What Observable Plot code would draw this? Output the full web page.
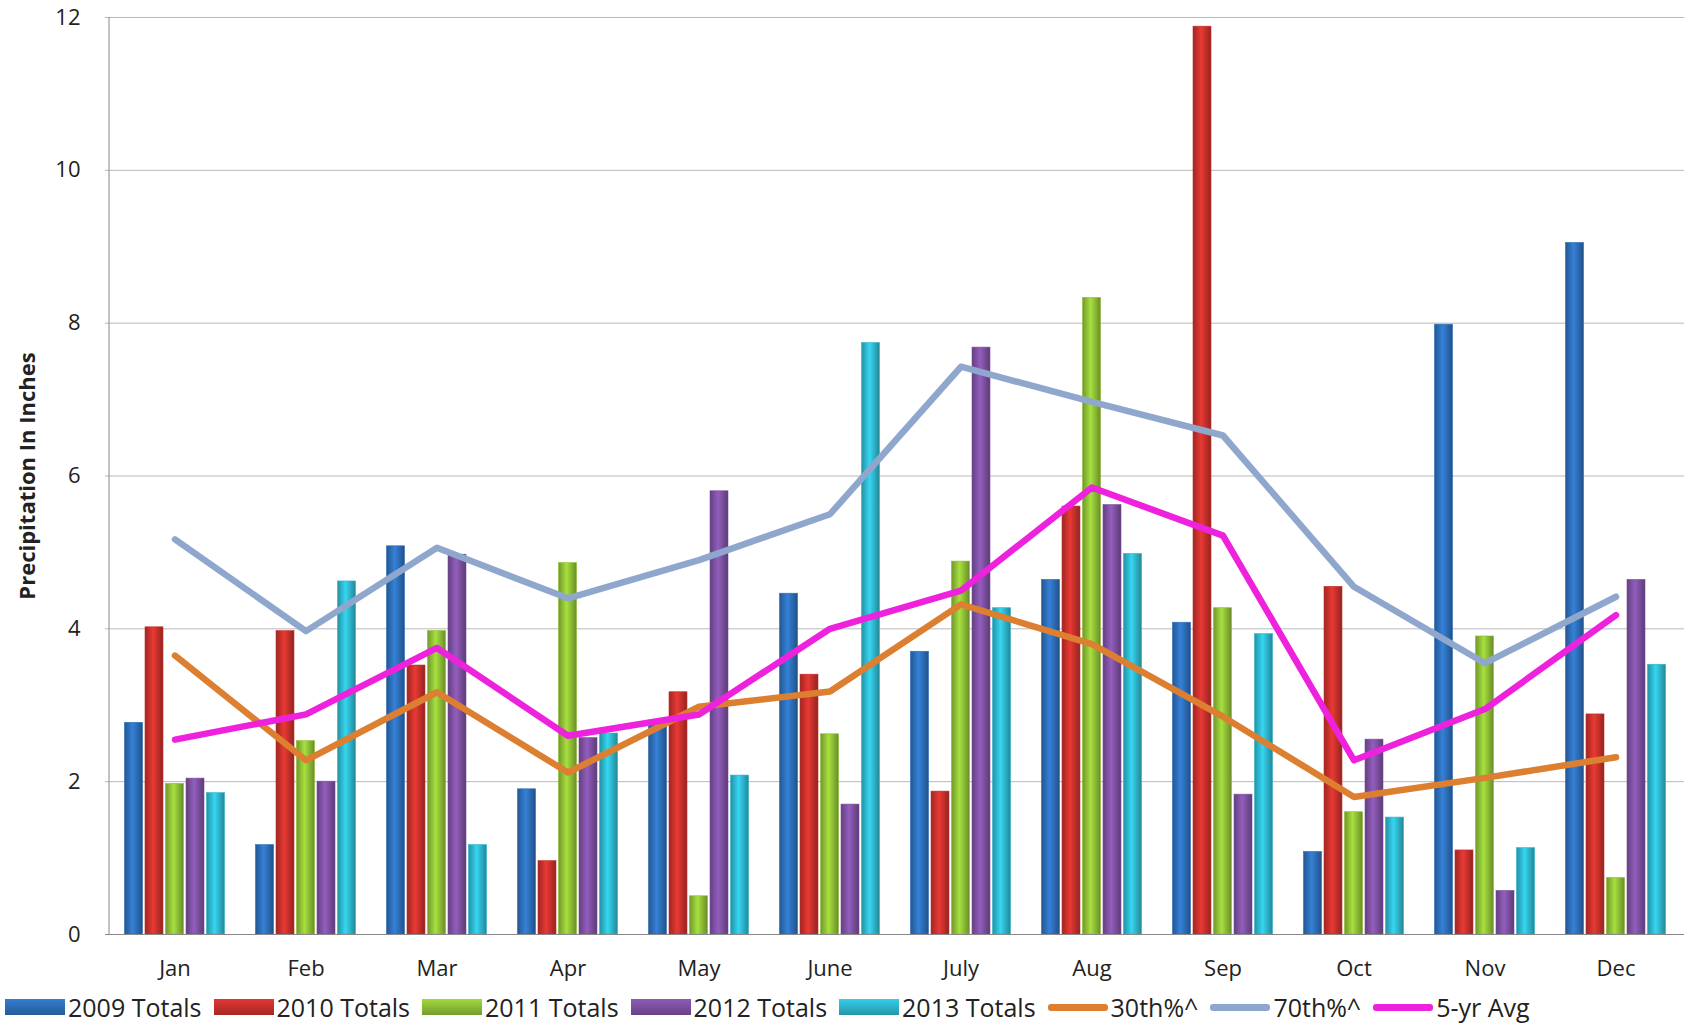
<!DOCTYPE html>
<html>
<head>
<meta charset="utf-8">
<script src="https://cdn.jsdelivr.net/npm/d3@7"></script>
<script src="https://cdn.jsdelivr.net/npm/@observablehq/plot@0.6"></script>
<style>
  body { margin: 0; background: white; font-family: "Open Sans", sans-serif; }
  #legend { display: flex; gap: 12px; margin-left: 5px; margin-top: 0px; font-size: 25px; color: #222; align-items: center; }
  .item { display: flex; align-items: center; gap: 3px; }
  .sw { width: 60px; height: 16px; }
  .ln { width: 60px; height: 7px; border-radius: 3px; }
</style>
</head>
<body>
<div id="chart"></div>
<div id="legend"></div>
<script>
const months = ["Jan","Feb","Mar","Apr","May","June","July","Aug","Sep","Oct","Nov","Dec"];
const barSeries = ["2009 Totals","2010 Totals","2011 Totals","2012 Totals","2013 Totals"];
const barColors = ["#2c6cb5","#c4302b","#8cbb35","#7b4f9e","#2db3ca"];
const t2009 = [2.77,1.17,5.08,1.90,2.80,4.46,3.70,4.64,4.08,1.08,7.98,9.05];
const t2010 = [4.02,3.97,3.52,0.96,3.17,3.40,1.87,5.60,11.88,4.55,1.10,2.88];
const t2011 = [1.97,2.53,3.97,4.86,0.50,2.62,4.88,8.33,4.27,1.60,3.90,0.74];
const t2012 = [2.04,2.00,4.97,2.57,5.80,1.70,7.68,5.62,1.83,2.55,0.57,4.64];
const t2013 = [1.85,4.62,1.17,2.63,2.08,7.74,4.27,4.98,3.93,1.53,1.13,3.53];
const p30 = [3.65,2.28,3.17,2.12,2.98,3.18,4.32,3.80,2.85,1.80,2.05,2.32];
const p70 = [5.17,3.97,5.06,4.40,4.90,5.50,7.43,6.97,6.53,4.55,3.55,4.42];
const avg5 = [2.55,2.88,3.75,2.60,2.88,4.00,4.50,5.85,5.22,2.28,2.95,4.18];
const lineSeries = ["30th%^","70th%^","5-yr Avg"];
const lineColors = ["#dc7f30","#8fa7cd","#ee22dd"];

const barData = [t2009,t2010,t2011,t2012,t2013];
const lineData = [p30,p70,avg5];

const marks = [
  Plot.gridY({stroke: "#888", strokeOpacity: 0.6, ticks: [2,4,6,8,10,12]})
];
barData.forEach((vals, i) => {
  const off = (i - 2) * 20.5;
  marks.push(Plot.barY(months.map((m, j) => ({m, v: vals[j]})), {
    x: "m", y: "v", fill: `url(#g${i})`, stroke: barColors[i], strokeWidth: 0.6,
    insetLeft: 56.5 + off, insetRight: 56.5 - off
  }));
});
marks.push(Plot.ruleY([0], {stroke: "#888"}));
lineData.forEach((vals, i) => {
  marks.push(Plot.lineY(months.map((m, j) => ({m, v: vals[j]})), {
    x: "m", y: "v", stroke: lineColors[i], strokeWidth: 6.5
  }));
});

const chart = Plot.plot({
  width: 1686, height: 990,
  marginLeft: 105, marginRight: 2, marginTop: 17, marginBottom: 56,
  style: {fontFamily: "Open Sans, sans-serif", fontSize: "22px", color: "#222", background: "white"},
  x: {domain: months, padding: 0, label: null, tickSize: 0, tickPadding: 26},
  y: {domain: [0, 12]},
  marks: [
    ...marks,
    Plot.axisY({ticks: [0,2,4,6,8,10,12], tickSize: 0, tickPadding: 25, label: "Precipitation In Inches", labelAnchor: "center", labelOffset: 86, labelArrow: "none", fontSize: 22}),
    Plot.ruleX([months[0]], {stroke: "#888", dx: -66, y1: 0, y2: 12})
  ]
});

const defs = d3.select(chart).insert("defs", ":first-child");
barColors.forEach((c, i) => {
  const g = defs.append("linearGradient").attr("id", `g${i}`).attr("x1", 0).attr("x2", 1).attr("y1", 0).attr("y2", 0);
  g.append("stop").attr("offset", "0%").attr("stop-color", d3.color(c).darker(0.6));
  g.append("stop").attr("offset", "45%").attr("stop-color", d3.color(c).brighter(0.5));
  g.append("stop").attr("offset", "100%").attr("stop-color", d3.color(c).darker(0.8));
});
d3.select(chart).selectAll("g[aria-label='y-axis label']").attr("font-weight", "bold").attr("font-size", 22);

document.getElementById("chart").append(chart);

const leg = document.getElementById("legend");
barSeries.forEach((s, i) => {
  leg.insertAdjacentHTML("beforeend", `<div class="item"><div class="sw" style="background:linear-gradient(${d3.color(barColors[i]).brighter(0.4)},${d3.color(barColors[i]).darker(0.5)})"></div>${s}</div>`);
});
lineSeries.forEach((s, i) => {
  leg.insertAdjacentHTML("beforeend", `<div class="item"><div class="ln" style="background:${lineColors[i]}"></div>${s}</div>`);
});
</script>
</body>
</html>
